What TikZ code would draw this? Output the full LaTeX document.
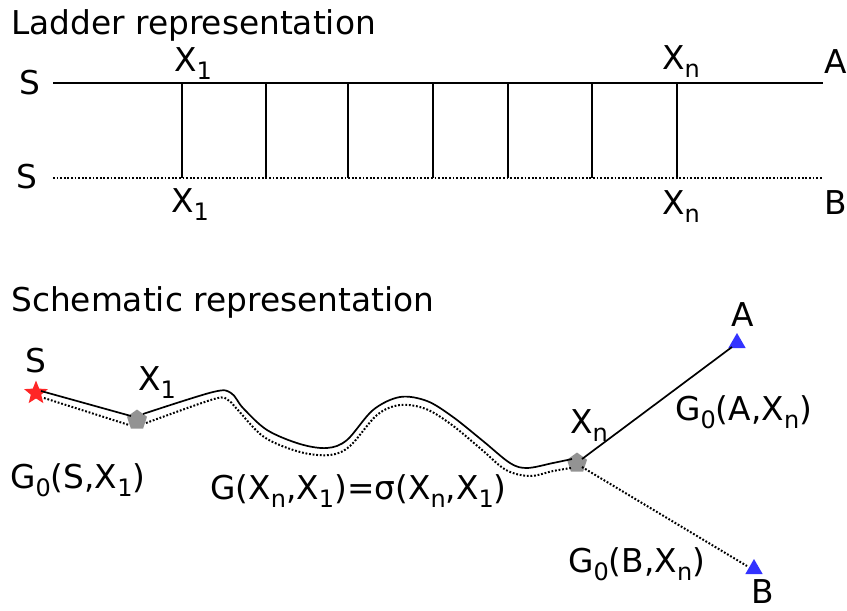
\documentclass[tikz,border=0pt]{standalone}
\usepackage{fontspec}
\setmainfont{DejaVu Sans}
\usetikzlibrary{shapes.geometric,calc}
\newcommand\lowsub[1]{\raisebox{-0.25em}{\fontsize{24}{24}\selectfont #1}}
\tikzset{
  lbl/.style={inner sep=0pt, font=\fontsize{32.8}{38}\selectfont},
  solidln/.style={line width=1.7pt},
  dotln/.style={line width=2pt, dash pattern=on 1.8pt off 1.8pt},
  starmk/.style={star, star points=5, star point ratio=2.3, fill=red!85!white, draw=none, minimum size=25pt, inner sep=0pt},
  pentmk/.style={regular polygon, regular polygon sides=5, fill=gray!85, draw=none, minimum size=21pt, inner sep=0pt},
  trimk/.style={regular polygon, regular polygon sides=3, fill=blue!80!white, draw=none, minimum size=20pt, inner sep=0pt},
}
\begin{document}
\begin{tikzpicture}[x=1pt,y=-1pt]
\useasboundingbox (0,0) rectangle (847,611);
% ---------- Ladder ----------
\node[lbl, anchor=base west] (t1) at (11,34) {Ladder representation};
\coordinate (tl) at (53,83);
\coordinate (tr) at (823,83);
\coordinate (bl) at (53,178);
\coordinate (br) at (823,178);
\draw[solidln] (tl) -- (tr);
\draw[dotln] (bl) -- (br);
\foreach \x [count=\i] in {182,266,348,433,508,592,677}{
  \coordinate (ru\i) at (\x,83);
  \coordinate (rd\i) at (\x,178);
  \draw[solidln] (ru\i) -- (rd\i);
}
\node[lbl, anchor=base] (s1) at (30,94) {S};
\node[lbl, anchor=base] (s2) at (27,188) {S};
\node[lbl, anchor=base west] (x1t) at (174,71) {X\lowsub{1}};
\node[lbl, anchor=base west] (x1b) at (171,212) {X\lowsub{1}};
\node[lbl, anchor=base west] (xnt) at (662,69) {X\lowsub{n}};
\node[lbl, anchor=base west] (xnb) at (662,214) {X\lowsub{n}};
\node[lbl, anchor=base west] (la) at (824,73) {A};
\node[lbl, anchor=base west] (lb) at (824,214) {B};
% ---------- Schematic ----------
\node[lbl, anchor=base west] (t2) at (11,311) {Schematic representation};
\node[starmk] (S) at (36,393) {};
\node[pentmk] (X1) at (137,420) {};
\node[pentmk] (Xn) at (577,463) {};
\node[trimk] (A) at (737,343) {};
\node[trimk] (B) at (754,569) {};
% S -- X1
\draw[solidln] ($(S.center)+(5,-2)$) -- ($(X1.center)+(-6,-4)$);
\draw[dotln] ($(S.center)+(8,5)$) -- ($(X1.center)+(-8,5)$);
% X1 -- Xn wavy
\draw[solidln] plot[smooth, tension=0.55] coordinates {(143,414) (213,392) (231,393) (243,408) (267,430) (300,444) (327,448) (347,440) (373,410) (400,397) (427,401) (453,417) (483,441) (510,463) (527,468) (553,463) (572,459)};
\draw[dotln] plot[smooth, tension=0.55] coordinates {(146,423) (214,399) (228,400) (237,409) (264,437) (300,452) (330,455) (350,446) (377,415) (400,405) (426,409) (452,425) (481,449) (506,470) (530,476) (553,471) (571,468)};
% Xn -- A, Xn -- B
\draw[solidln] ($(Xn.center)+(5,-4)$) -- ($(A.center)+(-5,4)$);
\draw[dotln] ($(Xn.center)+(5,4)$) -- ($(B.center)+(-7,-3)$);
% labels
\node[lbl, anchor=base] (lS) at (36,372) {S};
\node[lbl, anchor=base west] (lX1) at (138,390) {X\lowsub{1}};
\node[lbl, anchor=base west] (lXn) at (570,433) {X\lowsub{n}};
\node[lbl, anchor=base] (lA) at (743,326) {A};
\node[lbl, anchor=base] (lB) at (763,603) {B};
\node[lbl, anchor=base west] (gs) at (10,488) {G\lowsub{0}(S,X\lowsub{1})};
\node[lbl, anchor=base west] (ga) at (675,420) {G\lowsub{0}(A,X\lowsub{n})};
\node[lbl, anchor=base west] (gb) at (568,572) {G\lowsub{0}(B,X\lowsub{n})};
\node[lbl, anchor=base west] (gx) at (210,499) {G(X\lowsub{n},X\lowsub{1})=σ(X\lowsub{n},X\lowsub{1})};
\end{tikzpicture}
\end{document}
